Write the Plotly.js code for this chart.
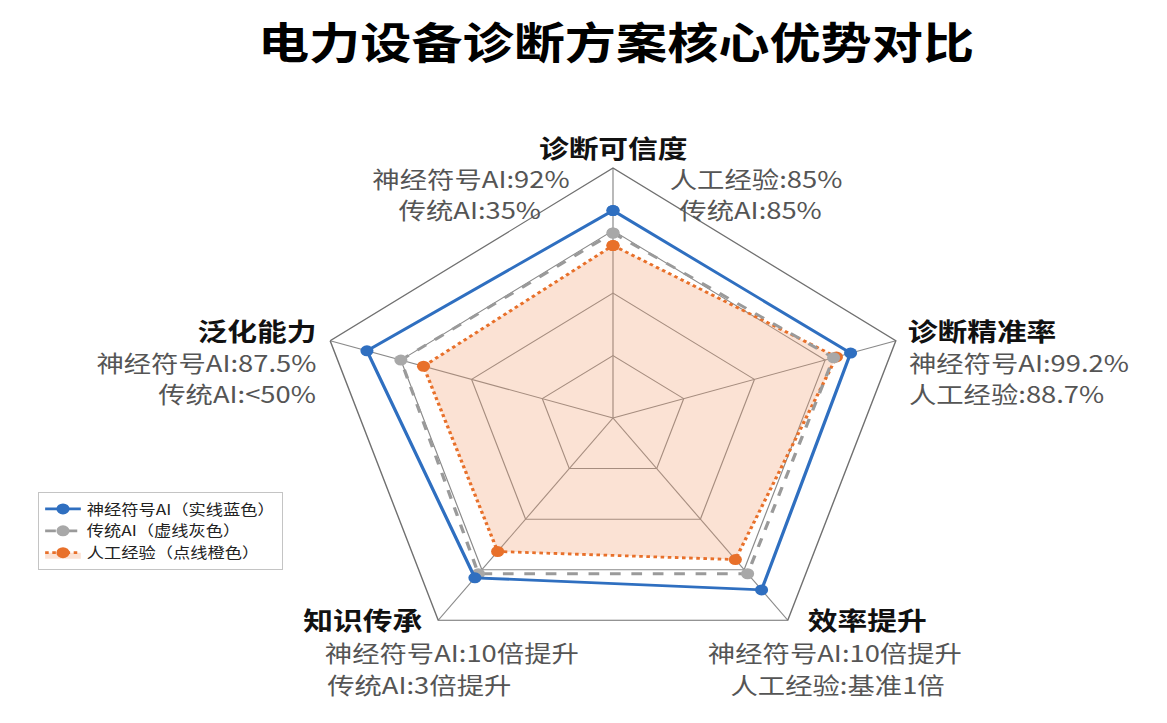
<!DOCTYPE html>
<html>
<head>
<meta charset="utf-8">
<script src="https://cdn.plot.ly/plotly-3.0.1.min.js"></script>
<style>
  html, body { margin: 0; padding: 0; background: #fff; overflow: hidden; }
  /* the reference is stretched sideways, so draw narrow and widen it */
  #myDiv { width: 981px; height: 723px; transform: scaleX(1.1896); transform-origin: 0 0; }
</style>
</head>
<body>
<div id="myDiv"></div>
<script>
// axes, clockwise from the top
var categories = ['诊断可信度', '诊断精准率', '效率提升', '知识传承', '泛化能力'];

// values (0-100 scale)
var neuroAI = [83, 84, 85, 79, 87];
var tradAI = [74, 78, 77, 77, 75];
var humanExp = [69, 79, 70, 66, 67];

var seriesNames = ['神经符号AI（实线蓝色）', '传统AI（虚线灰色）', '人工经验（点线橙色）'];

// the little notes next to each axis
var noteTop_L = ['神经符号AI:92%', '传统AI:35%'];
var noteTop_R = ['人工经验:85%', '传统AI:85%'];
var noteRight = ['神经符号AI:99.2%', '人工经验:88.7%'];
var noteLowR = ['神经符号AI:10倍提升', '人工经验:基准1倍'];
var noteLowL = ['神经符号AI:10倍提升', '传统AI:3倍提升'];
var noteLeft = ['神经符号AI:87.5%', '传统AI:<50%'];

function closeLoop(arr) { return arr.concat([arr[0]]); }

// paper fractions are the same before and after the stretch
var FW = 1167, FH = 723, LW = 981;
function px(x) { return x / FW; }
function py(y) { return 1 - y / FH; }

var cx = 613, cy = 418, R = 250;   // R in layout pixels

var trace3 = {
  type: 'scatterpolar',
  r: closeLoop(humanExp),
  theta: closeLoop(categories),
  name: seriesNames[2],
  mode: 'lines+markers',
  fill: 'toself',
  fillcolor: 'rgba(240,150,100,0.28)',
  line: {color: '#e8702a', width: 2.8, dash: 'dot'},
  marker: {color: '#e8702a', size: 11},
  legendrank: 3
};
var trace2 = {
  type: 'scatterpolar',
  r: closeLoop(tradAI),
  theta: closeLoop(categories),
  name: seriesNames[1],
  mode: 'lines+markers',
  line: {color: '#9a9a9a', width: 2.8, dash: 'dash'},
  marker: {color: '#a8a8a8', size: 11},
  legendrank: 2
};
var trace1 = {
  type: 'scatterpolar',
  r: closeLoop(neuroAI),
  theta: closeLoop(categories),
  name: seriesNames[0],
  mode: 'lines+markers',
  line: {color: '#2f6fc0', width: 2.8},
  marker: {color: '#2f6fc0', size: 11},
  legendrank: 1
};

var catFont = {family: 'Noto Sans CJK SC', size: 25, color: '#111', weight: 'bold'};
var noteFont = {family: 'Noto Sans CJK SC', size: 23, color: '#555'};

function ann(text, x, y, xanchor, font) {
  return {
    text: text, xref: 'paper', yref: 'paper',
    x: px(x), y: py(y), xanchor: xanchor, yanchor: 'middle',
    showarrow: false, font: font, borderpad: 0
  };
}

var annotations = [
  ann(categories[0], 613, 147, 'center', catFont),
  ann(noteTop_L[0], 471, 178, 'center', noteFont),
  ann(noteTop_L[1], 470, 209, 'center', noteFont),
  ann(noteTop_R[0], 756, 178, 'center', noteFont),
  ann(noteTop_R[1], 751, 209, 'center', noteFont),
  ann(categories[1], 907, 330, 'left', catFont),
  ann(noteRight[0], 908, 362, 'left', noteFont),
  ann(noteRight[1], 908, 393, 'left', noteFont),
  ann(categories[4], 318, 330, 'right', catFont),
  ann(noteLeft[0], 318, 362, 'right', noteFont),
  ann(noteLeft[1], 318, 393, 'right', noteFont),
  ann(categories[3], 302, 619, 'left', catFont),
  ann(noteLowL[0], 323, 652, 'left', noteFont),
  ann(noteLowL[1], 326, 684, 'left', noteFont),
  ann(categories[2], 867, 619, 'center', catFont),
  ann(noteLowR[0], 835, 652, 'center', noteFont),
  ann(noteLowR[1], 837, 684, 'center', noteFont)
];

var layout = {
  width: LW,
  height: FH,
  margin: {l: 0, r: 0, t: 0, b: 0},
  paper_bgcolor: '#ffffff',
  title: {
    text: '电力设备诊断方案核心优势对比',
    x: px(616), xanchor: 'center',
    y: py(44), yanchor: 'middle',
    font: {family: 'Noto Sans CJK SC', size: 43, color: '#000', weight: 'bold'}
  },
  showlegend: true,
  legend: {
    x: px(38), y: py(492), xanchor: 'left', yanchor: 'top',
    bordercolor: '#c4c4c4', borderwidth: 1, bgcolor: '#ffffff',
    font: {family: 'Noto Sans CJK SC', size: 14.5, color: '#222'},
    tracegroupgap: 0
  },
  polar: {
    domain: {x: [px(cx) - R / LW, px(cx) + R / LW], y: [py(cy + R), py(cy - R)]},
    gridshape: 'linear',
    bgcolor: 'rgba(0,0,0,0)',
    radialaxis: {
      range: [0, 100],
      tickvals: [25, 50, 75, 100],
      showticklabels: false,
      ticks: '',
      showline: false,
      gridcolor: '#8a8a8a',
      gridwidth: 1
    },
    angularaxis: {
      direction: 'clockwise',
      rotation: 90,
      showticklabels: false,
      ticks: '',
      linecolor: '#707070',
      linewidth: 1.2,
      gridcolor: '#8a8a8a',
      gridwidth: 1
    }
  },
  annotations: annotations
};

Plotly.newPlot('myDiv', [trace3, trace2, trace1], layout, {displayModeBar: false});
</script>
</body>
</html>
